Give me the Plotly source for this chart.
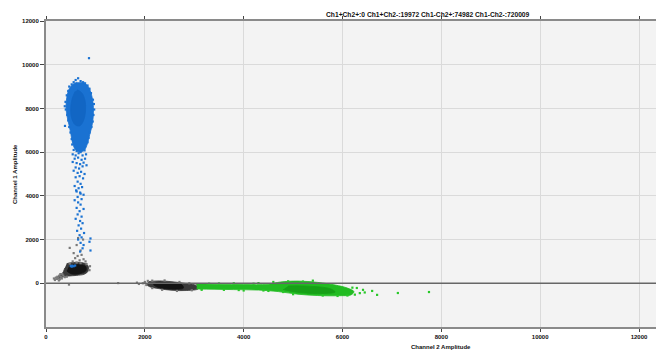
import plotly.graph_objects as go

# ---------------- data (amplitude units) ----------------
title_text = "Ch1+Ch2+:0 Ch1+Ch2-:19972 Ch1-Ch2+:74982 Ch1-Ch2-:720009"
x_ticks = [0, 2000, 4000, 6000, 8000, 10000, 12000]
y_ticks = [0, 2000, 4000, 6000, 8000, 10000, 12000]

# dense body outlines of each droplet cluster
blue_body_x = [700, 800, 880, 935, 960, 955, 930, 885, 840, 780, 690, 600, 540, 505, 470, 430, 405, 420, 470, 560, 630]
blue_body_y = [9200, 9130, 8900, 8500, 8050, 7600, 7200, 6800, 6400, 6100, 6000, 6100, 6400, 6800, 7200, 7600, 8050, 8500, 8900, 9130, 9200]
blue_core_x = [640, 730, 790, 800, 760, 680, 590, 520, 500, 530, 590]
blue_core_y = [8850, 8700, 8350, 7900, 7450, 7200, 7250, 7550, 8000, 8450, 8780]

gray1_body_x = [420, 600, 800, 860, 850, 780, 620, 450, 330, 250, 200, 230, 330, 380]
gray1_body_y = [900, 960, 900, 750, 550, 420, 360, 330, 280, 200, 180, 300, 450, 700]
gray1_core_x = [470, 650, 800, 810, 700, 520, 420]
gray1_core_y = [800, 860, 780, 580, 450, 430, 560]

gray2_body_x = [2080, 2300, 2550, 2800, 3050, 3080, 2850, 2550, 2300, 2100, 2030]
gray2_body_y = [80, 110, 70, 0, -110, -250, -330, -320, -250, -160, -50]
gray2_core_x = [2220, 2500, 2750, 2780, 2500, 2260, 2170]
gray2_core_y = [40, 20, -70, -220, -260, -180, -60]

green_body_x = [3050, 3500, 4000, 4500, 4750, 5100, 5500, 5850, 6100, 6230, 6180, 5900, 5500, 5100, 4700, 4300, 3800, 3400, 3050]
green_body_y = [-20, -40, -60, -40, 60, 100, 40, -80, -220, -380, -520, -570, -560, -500, -380, -310, -290, -270, -260]
green_core_x = [4900, 5300, 5750, 5850, 5500, 5050, 4800]
green_core_y = [-120, -130, -250, -400, -470, -400, -280]

# individual droplets outside the dense bodies
blue_x = [870, 380, 400, 395, 420, 430, 450, 470, 520, 560, 600, 650, 700, 750, 790, 840, 880, 910, 950,
          970, 975, 960, 945, 920, 880, 860, 840, 450, 470, 495, 520, 530, 384,
          560, 620, 700, 780, 540, 600, 660, 740, 810, 580, 650, 720, 790, 540, 620, 690, 760,
          600, 670, 740, 820, 560, 640, 710, 780, 600, 680, 750, 640, 700, 580, 660, 730, 620, 700,
          610, 690, 760, 640, 720, 580, 650, 700, 620, 760, 680, 640, 720, 600, 690, 740, 660, 710,
          630, 770, 680, 720, 650, 900, 880, 700, 760, 740, 900, 690,
          500, 530, 560, 590, 520]
blue_y = [10300, 8100, 7950, 8300, 8600, 7700, 8800, 9000, 9100, 9200, 9300, 9380, 9250, 9200, 9150, 9050, 8900, 8700, 8400,
          8200, 7950, 7700, 7400, 7150, 6900, 6650, 6450, 7450, 7150, 6900, 6600, 6350, 7200,
          6100, 6050, 6000, 6080, 5900, 5850, 5950, 5850, 5900, 5700, 5750, 5650, 5700, 5550, 5500, 5450, 5520,
          5300, 5250, 5350, 5400, 5150, 5050, 5100, 5000, 4850, 4900, 4800, 4650, 4550, 4450, 4350, 4400, 4200, 4100,
          4250, 4150, 4050, 3950, 3850, 3800, 3700, 3600, 3450, 3400, 3300, 3150, 3050, 2950, 2850, 2750, 2650, 2500,
          2400, 2300, 2200, 2100, 2000, 2050, 1900, 1850, 1750, 1600, 1500, 1450,
          790, 800, 780, 810, 760]

gray_x = [480, 650, 750, 620, 700, 560, 640, 720, 590, 680, 760, 540, 620, 700, 800, 480, 820,
          180, 220, 250, 280, 300, 230, 320, 350, 270, 380, 200, 160, 260, 330, 290, 880, 890, 420, 465,
          1460, 1840, 1880, 1960, 2000, 2030, 2060, 2150, 2400, 2700, 2900, 3050, 3100, 2950, 2650, 2350,
          2150, 3150, 3200]
gray_y = [1620, 2070, 2000, 1750, 1500, 1380, 1250, 1300, 1150, 1050, 1100, 1000, 950, 920, 1000, 900, 880,
          150, 200, 250, 180, 300, 300, 220, 350, 350, 280, 260, 220, 130, 420, 420, 600, 780, 300, -60,
          10, 30, -30, 0, 60, -80, 110, 120, 130, 60, 0, -60, -180, -320, -350, -300,
          -220, -250, -150]

green_x = [5400, 6290, 6415, 6600, 6700, 7120, 7750, 6350, 6250, 4600, 4500, 4000, 3600, 3300, 3800, 4200,
           5000, 5600, 5900, 6100, 5200, 4900, 3150, 3500, 4400, 4800, 6200, 6450, 3900, 4300]
green_y = [120, -215, -300, -350, -530, -445, -400, -450, -520, 60, -350, -330, -300, -20, 0, -20,
           -500, -560, -580, -560, 80, 90, -300, -10, -330, -400, -200, -420, -310, 10]

# ---------------- colours ----------------
BLUE, BLUE_CORE = "#1a72d2", "#1266c4"
GRAY, GRAY_BODY, GRAY_CORE = "#7a7a7a", "#3a3a3a", "#141414"
GREEN, GREEN_BODY, GREEN_CORE = "#28c828", "#22bb22", "#17a017"

fig = go.Figure()


def body(xs, ys, color):
    fig.add_trace(go.Scatter(x=xs, y=ys, mode="lines", fill="toself", fillcolor=color,
                             line=dict(width=0.8, color=color, shape="spline"),
                             hoverinfo="skip", showlegend=False))


def dots(xs, ys, color):
    fig.add_trace(go.Scatter(x=xs, y=ys, mode="markers",
                             marker=dict(symbol="square", size=2.2, color=color, line=dict(width=0)),
                             showlegend=False))


body(gray1_body_x, gray1_body_y, GRAY_BODY)
body(gray1_core_x, gray1_core_y, GRAY_CORE)
body(gray2_body_x, gray2_body_y, GRAY_BODY)
body(gray2_core_x, gray2_core_y, GRAY_CORE)
dots(gray_x, gray_y, GRAY)
body(green_body_x, green_body_y, GREEN_BODY)
body(green_core_x, green_core_y, GREEN_CORE)
dots(green_x, green_y, GREEN)
body(blue_body_x, blue_body_y, BLUE)
body(blue_core_x, blue_core_y, BLUE_CORE)
dots(blue_x, blue_y, BLUE)

FONT = "Liberation Sans"
TXT = dict(family=FONT, size=6, color="#111111", weight="bold")
fig.update_layout(
    width=656, height=350,
    margin=dict(l=46, r=0, t=21, b=23),
    paper_bgcolor="white", plot_bgcolor="#f3f3f3",
    font=TXT,
    showlegend=False,
    xaxis=dict(range=[0, 12344], tickvals=x_ticks, ticktext=[str(v) for v in x_ticks],
               showgrid=True, gridcolor="#dadada", gridwidth=1, zeroline=False,
               showline=True, linecolor="#8a8a8a", linewidth=2, mirror="ticks",
               ticks="outside", ticklen=3, tickcolor="#444", tickwidth=1,
               tickfont=TXT),
    yaxis=dict(range=[-2000, 12000], tickvals=y_ticks, ticktext=[str(v) for v in y_ticks],
               showgrid=True, gridcolor="#dadada", gridwidth=1, zeroline=False,
               showline=True, linecolor="#8a8a8a", linewidth=2,
               ticks="outside", ticklen=4, tickcolor="#444", tickwidth=1,
               tickfont=TXT),
    shapes=[dict(type="line", xref="paper", x0=0, x1=1, yref="y", y0=0, y1=0,
                 line=dict(color="#666666", width=1.5), layer="above")],
    annotations=[
        dict(text=title_text, xref="paper", yref="paper", x=0.626, y=1, yanchor="middle",
             yshift=7, showarrow=False, font=dict(family=FONT, size=6.7, color="#111", weight="bold")),
        dict(text="Channel 2 Amplitude", xref="paper", yref="paper", x=0.6475, y=0,
             yanchor="top", yshift=-15, showarrow=False, font=TXT),
        dict(text="Channel 1 Amplitude", xref="paper", yref="paper", x=-0.0508, y=0.5,
             xanchor="center", yanchor="middle", textangle=-90, showarrow=False, font=TXT),
    ],
)

fig.write_html("out.html")
